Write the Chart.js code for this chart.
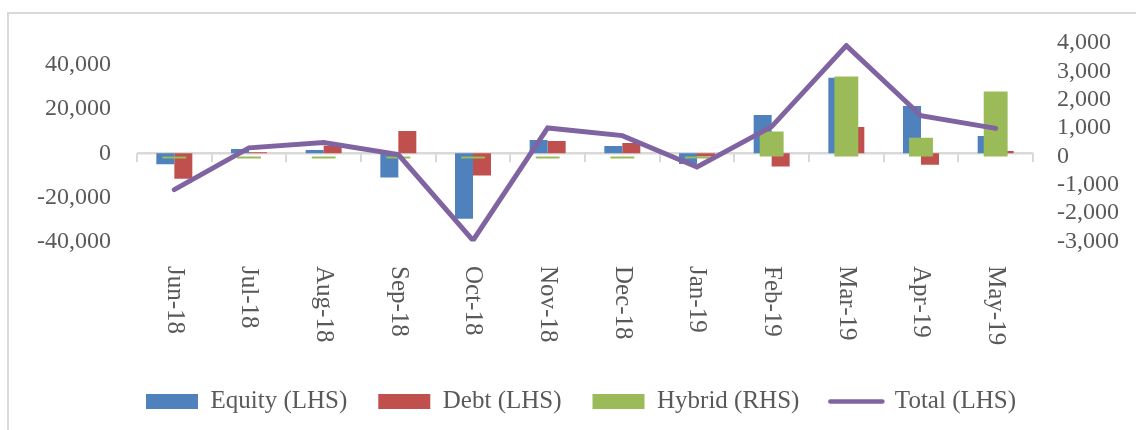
<!DOCTYPE html>
<html>
<head>
<meta charset="utf-8">
<script src="https://cdn.jsdelivr.net/npm/chart.js@4.4.1/dist/chart.umd.min.js"></script>
<style>
html,body{margin:0;padding:0;background:#fff;overflow:hidden;}
canvas{display:block;}
</style>
</head>
<body>
<canvas id="c" width="1136" height="430"></canvas>
<script>
const categories = ['Jun-18','Jul-18','Aug-18','Sep-18','Oct-18','Nov-18','Dec-18','Jan-19','Feb-19','Mar-19','Apr-19','May-19'];
const equity = [-5000, 1950, 1500, -11000, -29700, 6000, 3300, -4850, 17300, 34200, 21400, 7800];
const debt   = [-11600, 500, 3450, 10100, -10100, 5550, 4650, -1500, -6050, 11900, -5150, 1000];
const hybrid = [-70, -70, -70, -70, -70, -70, -70, -70, 875, 2820, 660, 2290];
const total  = [-16500, 2450, 4900, -600, -39500, 11500, 8000, -6200, 12100, 48800, 17000, 11300];
const leftTickValues  = [-40000, -20000, 0, 20000, 40000];
const rightTickValues = [-3000, -2000, -1000, 0, 1000, 2000, 3000, 4000];
const leftRange  = { min: -40000, max: 50000 };
const rightRange = { min: -3000, max: 4000 };

const FONT = "'Liberation Serif', 'Times New Roman', serif";
const TEXT = '#595959';
const AXIS = '#D9D9D9';

const framePlugin = {
  id: 'frame',
  beforeDraw(chart) {
    const c = chart.ctx;
    c.save();
    c.fillStyle = '#fff';
    c.fillRect(0, 0, chart.width, chart.height);
    c.strokeStyle = AXIS;
    c.lineWidth = 2;
    c.strokeRect(8, 13, chart.width + 100, chart.height + 100);
    c.restore();
  }
};

const zeroAxisPlugin = {
  id: 'zeroAxis',
  beforeDatasetsDraw(chart) {
    const x = chart.scales.x, y = chart.scales.y, c = chart.ctx;
    const yz = y.getPixelForValue(0);
    c.save();
    c.strokeStyle = AXIS;
    c.lineWidth = 2.5;
    c.beginPath();
    c.moveTo(x.left, yz);
    c.lineTo(x.right, yz);
    c.stroke();
    c.lineWidth = 2;
    c.beginPath();
    for (let i = 0; i <= categories.length; i++) {
      const px = Math.round(x.getPixelForValue(i - 0.5));
      c.moveTo(px, yz);
      c.lineTo(px, yz + 9);
    }
    c.stroke();
    c.restore();
  }
};

const xLabelPlugin = {
  id: 'xLabels',
  afterDraw(chart) {
    const x = chart.scales.x, c = chart.ctx;
    c.save();
    c.fillStyle = TEXT;
    c.font = '25px ' + FONT;
    c.textAlign = 'left';
    c.textBaseline = 'middle';
    categories.forEach((lab, i) => {
      const px = x.getPixelForTick(i);
      c.save();
      c.translate(px, 266);
      c.rotate(Math.PI / 2);
      c.fillText(lab, 0, 0);
      c.restore();
    });
    c.restore();
  }
};

const fmt = v => Number(v).toLocaleString('en-US');

new Chart(document.getElementById('c'), {
  type: 'bar',
  data: {
    labels: categories,
    datasets: [
      { label: 'Equity (LHS)', data: equity, backgroundColor: '#4F81BD', yAxisID: 'y', order: 2, categoryPercentage: 0.482, barPercentage: 1 },
      { label: 'Debt (LHS)', data: debt, backgroundColor: '#C0504D', yAxisID: 'y', order: 2, categoryPercentage: 0.482, barPercentage: 1 },
      { label: 'Hybrid (RHS)', data: hybrid, backgroundColor: '#9BBB59', yAxisID: 'y2', order: 1, grouped: false, categoryPercentage: 0.32, barPercentage: 1 },
      { type: 'line', label: 'Total (LHS)', data: total, borderColor: '#8064A2', backgroundColor: '#8064A2', borderWidth: 5, pointRadius: 0, pointHoverRadius: 0, tension: 0, yAxisID: 'y', order: 0, borderCapStyle: 'round' }
    ]
  },
  options: {
    responsive: false,
    animation: false,
    devicePixelRatio: 1,
    layout: { padding: { left: 26, right: 0, top: 43, bottom: 6 } },
    plugins: {
      tooltip: { enabled: false },
      legend: {
        position: 'bottom',
        align: 'center',
        labels: {
          usePointStyle: true,
          pointStyleWidth: 52,
          boxHeight: 15,
          padding: 31,
          color: TEXT,
          font: { family: FONT, size: 25 },
          generateLabels(chart) {
            return chart.data.datasets.map((ds, i) => {
              const isLine = ds.type === 'line';
              return {
                text: ds.label,
                fillStyle: isLine ? ds.borderColor : ds.backgroundColor,
                strokeStyle: isLine ? ds.borderColor : ds.backgroundColor,
                lineWidth: isLine ? 4.5 : 0,
                lineCap: 'round',
                pointStyle: isLine ? 'line' : 'rect',
                fontColor: TEXT,
                hidden: false,
                datasetIndex: i
              };
            });
          }
        }
      }
    },
    scales: {
      x: {
        type: 'category', position: 'bottom', offset: true,
        grid: { display: false }, border: { display: false },
        ticks: { display: false },
        afterFit(s) { s.height = 116.5; }
      },
      y: {
        position: 'left', min: leftRange.min, max: leftRange.max,
        grid: { display: false, drawTicks: false }, border: { display: false },
        ticks: { autoSkip: false, padding: 26, color: TEXT, font: { family: FONT, size: 24 }, callback: fmt },
        afterBuildTicks(s) { s.ticks = leftTickValues.map(v => ({ value: v })); },
        afterFit(s) { s.width = 111; }
      },
      y2: {
        position: 'right', min: rightRange.min, max: rightRange.max,
        grid: { display: false, drawTicks: false }, border: { display: false },
        ticks: { autoSkip: false, padding: 24, color: TEXT, font: { family: FONT, size: 24 }, callback: fmt },
        afterBuildTicks(s) { s.ticks = rightTickValues.map(v => ({ value: v })); },
        afterFit(s) { s.width = 103; }
      }
    }
  },
  plugins: [framePlugin, zeroAxisPlugin, xLabelPlugin]
});
</script>
</body>
</html>
